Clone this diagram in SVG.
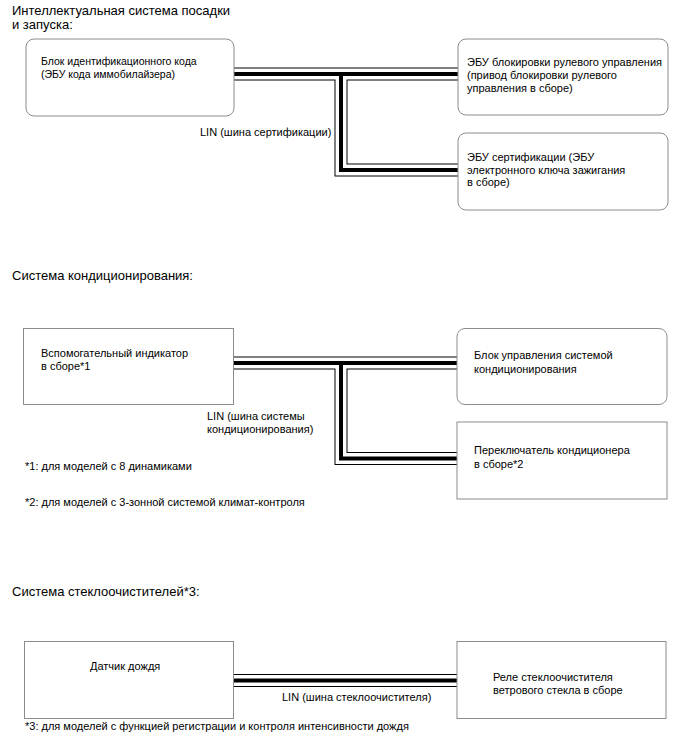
<svg xmlns="http://www.w3.org/2000/svg" xmlns:xlink="http://www.w3.org/1999/xlink" width="688" height="755" viewBox="0 0 688 755">
<style>
text{font-family:"Liberation Sans",Arial,sans-serif;fill:#000}
.title{font-size:13px}
.t{font-size:11px}
.s{font-size:10.5px}
.box{fill:#fff;stroke:#8c8c8c;stroke-width:1}
.l1{fill:none;stroke:#000;stroke-width:13;stroke-linejoin:miter}
.l2{fill:none;stroke:#fff;stroke-width:11;stroke-linejoin:miter}
.l3{fill:none;stroke:#000;stroke-width:4;stroke-linejoin:miter}
</style>
<defs>
<path id="p1" d="M234,74 H458"/>
<path id="p2" d="M341,74 V170 H458"/>
<path id="p3" d="M233,363 H457"/>
<path id="p4" d="M341,363 V458.5 H457"/>
<path id="p5" d="M233,680.5 H457"/>
</defs>
<rect width="688" height="755" fill="#fff"/>
<g id="titles">
<text class="title" x="12" y="15">Интеллектуальная система посадки</text>
<text class="title" x="12" y="29">и запуска:</text>
<text class="title" x="12" y="280">Система кондиционирования:</text>
<text class="title" x="12" y="596">Система стеклоочистителей*3:</text>
</g>
<g id="connectors">
<use href="#p1" class="l1"/><use href="#p2" class="l1"/><use href="#p3" class="l1"/><use href="#p4" class="l1"/><use href="#p5" class="l1"/>
<use href="#p1" class="l2"/><use href="#p2" class="l2"/><use href="#p3" class="l2"/><use href="#p4" class="l2"/><use href="#p5" class="l2"/>
<use href="#p1" class="l3"/><use href="#p2" class="l3"/><use href="#p3" class="l3"/><use href="#p4" class="l3"/><use href="#p5" class="l3"/>
<text class="t" x="200" y="136">LIN (шина сертификации)</text>
<text class="t" x="207" y="420">LIN (шина системы</text>
<text class="t" x="207" y="433">кондиционирования)</text>
<text class="t" x="282" y="701">LIN (шина стеклоочистителя)</text>
</g>
<g id="n-immo">
<rect class="box" x="26" y="39" width="208" height="77" rx="8"/>
<text class="s" x="41" y="65">Блок идентификационного кода</text>
<text class="s" x="41" y="78">(ЭБУ кода иммобилайзера)</text>
</g>
<g id="n-steer">
<rect class="box" x="458" y="39" width="210" height="76" rx="8"/>
<text class="t" x="467" y="66">ЭБУ блокировки рулевого управления</text>
<text class="t" x="467" y="79">(привод блокировки рулевого</text>
<text class="t" x="467" y="92">управления в сборе)</text>
</g>
<g id="n-cert">
<rect class="box" x="458" y="133" width="210" height="77" rx="8"/>
<text class="t" x="467" y="161">ЭБУ сертификации (ЭБУ</text>
<text class="t" x="467" y="173.5">электронного ключа зажигания</text>
<text class="t" x="467" y="186">в сборе)</text>
</g>
<g id="n-ind">
<rect class="box" x="23.5" y="328.5" width="210" height="76"/>
<text class="t" x="41" y="356.5">Вспомогательный индикатор</text>
<text class="t" x="41" y="370">в сборе*1</text>
</g>
<g id="n-ac">
<rect class="box" x="457" y="328.5" width="210" height="76" rx="8"/>
<text class="t" x="474" y="358.5">Блок управления системой</text>
<text class="t" x="474" y="372.5">кондиционирования</text>
</g>
<g id="n-acsw">
<rect class="box" x="457" y="422" width="210" height="77"/>
<text class="t" x="474" y="453.5">Переключатель кондиционера</text>
<text class="t" x="474" y="467.5">в сборе*2</text>
</g>
<g id="notes">
<text class="t" x="25" y="470">*1: для моделей с 8 динамиками</text>
<text class="t" x="25" y="506">*2: для моделей с 3-зонной системой климат-контроля</text>
<text class="t" x="25" y="730">*3: для моделей с функцией регистрации и контроля интенсивности дождя</text>
</g>
<g id="n-rain">
<rect class="box" x="24.5" y="641.5" width="209" height="77"/>
<text class="t" x="90" y="670">Датчик дождя</text>
</g>
<g id="n-relay">
<rect class="box" x="457" y="641.5" width="209" height="77"/>
<text class="t" x="493" y="681">Реле стеклоочистителя</text>
<text class="t" x="493" y="693.5">ветрового стекла в сборе</text>
</g>
</svg>
